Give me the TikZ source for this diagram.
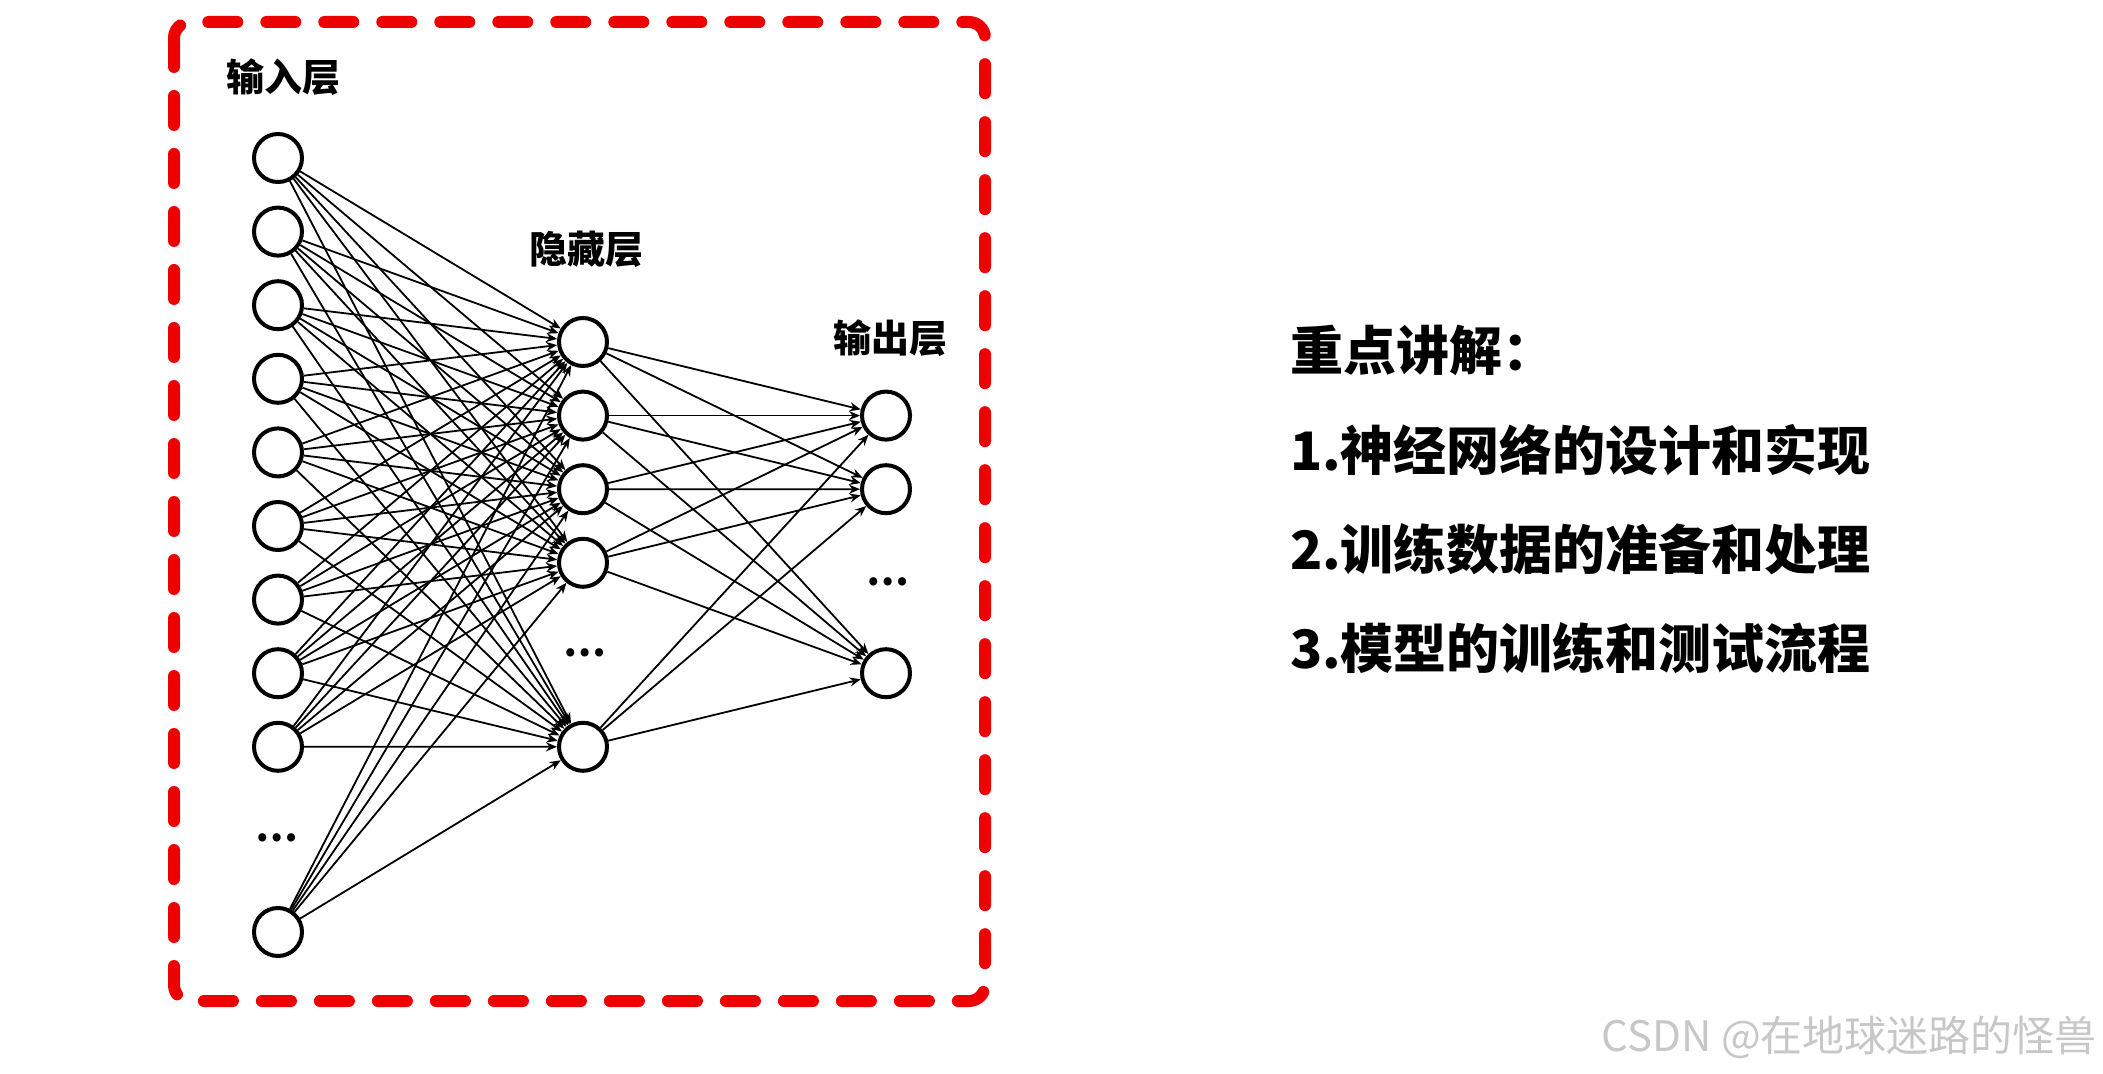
\documentclass[tikz,border=0pt]{standalone}
\usepackage{fontspec}
\setmainfont{Noto Sans CJK SC}
\usepackage{xcolor}
\usetikzlibrary{arrows.meta}
\definecolor{framered}{RGB}{236,0,0}

\begin{document}
\begin{tikzpicture}[
x=0.5pt,y=-0.5pt,
neuron/.style={draw,circle,line width=2pt,minimum size=24pt,inner sep=0pt,fill=white},
layertitle/.style={font=\fontsize{19}{23}\selectfont\bfseries},
gap/.style={font=\fontsize{19}{23}\selectfont\bfseries},
conn/.style={-{Stealth[length=5.5pt,width=4.5pt]},line width=0.9pt},
point/.style={anchor=west,font=\fontsize{26.5}{32}\selectfont\bfseries},
redframe/.style={draw=framered,line width=6pt,dash pattern=on 14.5pt off 14.5pt,line cap=round,rounded corners=8pt}
]
\useasboundingbox (0,0) rectangle (2103,1074);
\draw[redframe] (174,22) rectangle (985,1001);
% layers
\foreach \i in {1,...,9}
  \node[neuron] (in\i) at (278,{158+(\i-1)*73.6}) {};
\node[neuron] (inN) at (278,932) {};
\foreach \j in {1,...,4}
  \node[neuron] (hid\j) at (583,{342+(\j-1)*73.6}) {};
\node[neuron] (hidN) at (583,746.8) {};
\node[neuron] (out1) at (886,415.6) {};
\node[neuron] (out2) at (886,489.2) {};
\node[neuron] (outN) at (886,673.2) {};
\node[gap] (indots) at (277,838) {…};
\node[gap] (hiddots) at (585,653) {…};
\node[gap] (outdots) at (888,582) {…};
% titles
\node[layertitle] (intitle) at (283,77) {输入层};
\node[layertitle] (hidtitle) at (586,249) {隐藏层};
\node[layertitle] (outtitle) at (890,338) {输出层};
% weights
\foreach \i in {1,...,9,N}
  \foreach \j in {1,2,3,4,N}
    \draw[conn] (in\i) -- (hid\j);
\foreach \j in {1,2,3,4,N}
  \foreach \k in {1,2,N}
    \draw[conn] (hid\j) -- (out\k);
% notes
\node[point] (head) at (1283,350) {重点讲解：};
\node[point] (note1) at (1283,450) {1.神经网络的设计和实现};
\node[point] (note2) at (1283,549) {2.训练数据的准备和处理};
\node[point] (note3) at (1283,648) {3.模型的训练和测试流程};
\node[anchor=east,text=black!22,font=\fontsize{21}{25}\selectfont] (mark) at (2104,1037) {CSDN @在地球迷路的怪兽};
\end{tikzpicture}
\end{document}
